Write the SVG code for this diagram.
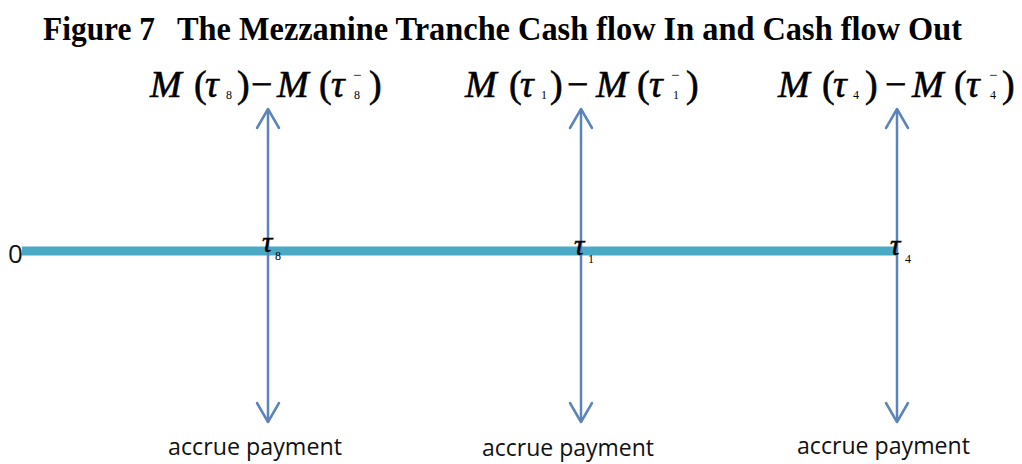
<svg xmlns="http://www.w3.org/2000/svg" width="1022" height="464" viewBox="0 0 1022 464">
<style>
.title{font-family:"Liberation Serif",serif;font-weight:bold;font-size:33px;fill:#000}
.f{font-family:"Liberation Serif",serif;font-size:38px;fill:#000;stroke:#000;stroke-width:0.6}
.i{font-style:italic}
.s{font-family:"Liberation Serif",serif;font-size:12px;fill:#000}
.sm{font-family:"Liberation Serif",serif;font-size:15px;fill:#000}
.t{font-family:"Liberation Serif",serif;font-style:italic;font-size:29px;fill:#000;stroke:#000;stroke-width:0.5}
.lab{font-family:"Open Sans","Liberation Sans",sans-serif;font-size:23px;fill:#111}
.zero{font-family:"Open Sans","Liberation Sans",sans-serif;font-size:26px;fill:#111}
.v{stroke:#5b84ba;stroke-width:2.5;fill:none}
.ah{stroke:#5b84ba;stroke-width:2.5;fill:none;stroke-linecap:round;stroke-linejoin:round}
</style>
<rect width="1022" height="464" fill="#fff"/>
<text class="title" y="40"><tspan x="43" textLength="112" lengthAdjust="spacingAndGlyphs">Figure 7</tspan><tspan x="177" textLength="785" lengthAdjust="spacingAndGlyphs">The Mezzanine Tranche Cash flow In and Cash flow Out</tspan></text>

<g id="timeline">
<line x1="22" y1="251" x2="898" y2="251" stroke="#4aaac6" stroke-width="9"/>
<text class="zero" x="8" y="263">0</text>
</g>

<g id="connectors">
<line class="v" x1="268" y1="109" x2="268" y2="422"/>
<polyline class="ah" points="257,128 268,109 279,128"/>
<polyline class="ah" points="257,403 268,422 279,403"/>
<line class="v" x1="581" y1="109" x2="581" y2="422"/>
<polyline class="ah" points="570,128 581,109 592,128"/>
<polyline class="ah" points="570,403 581,422 592,403"/>
<line class="v" x1="897" y1="109" x2="897" y2="422"/>
<polyline class="ah" points="886,128 897,109 908,128"/>
<polyline class="ah" points="886,403 897,422 908,403"/>
</g>

<g id="node-tau8">
<text class="f" y="97"><tspan class="i" x="150">M</tspan><tspan x="194">(</tspan><tspan class="i" x="205">τ</tspan><tspan x="237">)</tspan><tspan x="251">−</tspan><tspan class="i" x="277">M</tspan><tspan x="319">(</tspan><tspan class="i" x="331">τ</tspan><tspan x="369">)</tspan></text>
<text class="s" x="226" y="99">8</text>
<text class="s" x="354" y="99">8</text>
<text class="sm" x="353" y="80">−</text>
<text class="t" x="262" y="252">τ</text>
<text class="s" x="275" y="260">8</text>
<text class="lab" x="168" y="455" textLength="174" lengthAdjust="spacingAndGlyphs">accrue payment</text>
</g>

<g id="node-tau1">
<text class="f" y="97"><tspan class="i" x="465">M</tspan><tspan x="509">(</tspan><tspan class="i" x="520">τ</tspan><tspan x="550">)</tspan><tspan x="567">−</tspan><tspan class="i" x="596">M</tspan><tspan x="637">(</tspan><tspan class="i" x="649">τ</tspan><tspan x="686">)</tspan></text>
<text class="s" x="541" y="99">1</text>
<text class="s" x="673" y="99">1</text>
<text class="sm" x="671" y="80">−</text>
<text class="t" x="574" y="255">τ</text>
<text class="s" x="588" y="263">1</text>
<text class="lab" x="482" y="456" textLength="172" lengthAdjust="spacingAndGlyphs">accrue payment</text>
</g>

<g id="node-tau4">
<text class="f" y="97"><tspan class="i" x="778">M</tspan><tspan x="822">(</tspan><tspan class="i" x="833">τ</tspan><tspan x="865">)</tspan><tspan x="885">−</tspan><tspan class="i" x="912">M</tspan><tspan x="954">(</tspan><tspan class="i" x="966">τ</tspan><tspan x="1002">)</tspan></text>
<text class="s" x="853" y="99">4</text>
<text class="s" x="990" y="99">4</text>
<text class="sm" x="989" y="80">−</text>
<text class="t" x="890" y="255">τ</text>
<text class="s" x="905" y="263">4</text>
<text class="lab" x="797" y="454" textLength="173" lengthAdjust="spacingAndGlyphs">accrue payment</text>
</g>
</svg>
